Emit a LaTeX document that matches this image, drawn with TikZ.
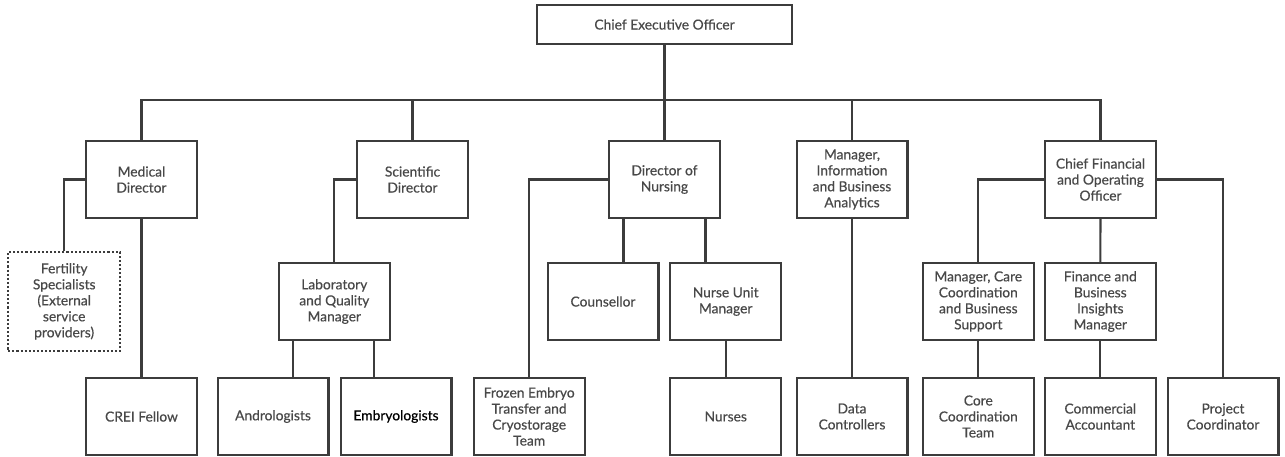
\documentclass[tikz,border=0pt]{standalone}
\usepackage{fontspec}
\setmainfont[FakeBold=0.5]{Lato}
\definecolor{boxgray}{RGB}{60,60,60}
\definecolor{textgray}{RGB}{72,72,72}
\usetikzlibrary{positioning}

\begin{document}
\begin{tikzpicture}[x=1pt,y=-1pt,
    font=\fontsize{13.8}{16}\selectfont,
    post/.style={draw=boxgray,line width=2.1pt,text=textgray,minimum width=110.9pt,
                 minimum height=76.9pt,inner sep=0pt,align=center},
    ext/.style={post,dotted,minimum width=111.9pt,minimum height=98.9pt},
    link/.style={draw=boxgray,line width=2.1pt}]
  \useasboundingbox (0,0) rectangle (1285,457);
  % top
  \node[post,minimum width=254.9pt,minimum height=38.9pt] (ceo) at (664.5,24.5) {Chief Executive Officer};
  \coordinate (bus) at (664.5,100);
  % directors
  \node[post] (md) at (141.5,179.5) {Medical\\Director};
  \node[post] (sd) at (412.5,179.5) {Scientific\\Director};
  \node[post] (don) at (664.5,179.5) {Director of\\Nursing};
  \node[post] (miba) at (852,179.5) {Manager,\\Information\\and Business\\Analytics};
  \node[post] (cfo) at (1100.5,179.5) {Chief Financial\\and Operating\\Officer};
  % managers
  \node[ext] (fert) at (64.2,301.4) {Fertility\\Specialists\\(External\\service\\providers)};
  \node[post] (lab) at (334.3,301.5) {Laboratory\\and Quality\\Manager};
  \node[post] (couns) at (603,301.5) {Counsellor};
  \node[post,right=9.7pt of couns] (num) {Nurse Unit\\Manager};
  \node[post] (mcc) at (978.3,301.5) {Manager, Care\\Coordination\\and Business\\Support};
  \node[post,right=9pt of mcc] (fin) {Finance and\\Business\\Insights\\Manager};
  % teams
  \node[post] (crei) at (141.5,416.5) {CREI Fellow};
  \node[post] (andro) at (273,416.5) {Andrologists};
  \node[post,right=10pt of andro,text=black] (embryo) {Embryologists};
  \node[post] (frozen) at (529.2,416.5) {Frozen Embryo\\Transfer and\\Cryostorage\\Team};
  \node[post,below=36pt of num] (nurses) {Nurses};
  \node[post] (data) at (852,416.5) {Data\\Controllers};
  \node[post,below=36pt of mcc] (core) {Core\\Coordination\\Team};
  \node[post,below=36pt of fin] (comm) {Commercial\\Accountant};
  \node[post,right=9.7pt of comm] (proj) {Project\\Coordinator};
  % lines
  \draw[link] (ceo) -- (bus);
  \draw[link] (md.north) |- (bus) -| (cfo.north);
  \draw[link] (sd.north) -- (sd.north |- bus);
  \draw[link] (don.north) -- (don.north |- bus);
  \draw[link] (miba.north) -- (miba.north |- bus);
  \draw[link] (md.west) -| (fert.north);
  \draw[link] (md.south) -- (crei.north);
  \draw[link] (sd.west) -| (lab.north);
  \draw[link] ([xshift=-41pt]lab.south) -- ([xshift=-41pt]lab.south |- andro.north);
  \draw[link] ([xshift=40pt]lab.south) -- ([xshift=40pt]lab.south |- embryo.north);
  \draw[link] (don.west) -| (frozen.north);
  \draw[link] ([xshift=-41pt]don.south) -- ([xshift=-41pt]don.south |- couns.north);
  \draw[link] ([xshift=41pt]don.south) -- ([xshift=41pt]don.south |- num.north);
  \draw[link] (num.south) -- (nurses.north);
  \draw[link] (miba.south) -- (data.north);
  \draw[link] (cfo.west) -| (mcc.north);
  \draw[link] (cfo.south) -- (fin.north);
  \draw[link] (cfo.east) -| (proj.north);
  \draw[link] (mcc.south) -- (core.north);
  \draw[link] (fin.south) -- (comm.north);
\end{tikzpicture}
\end{document}
